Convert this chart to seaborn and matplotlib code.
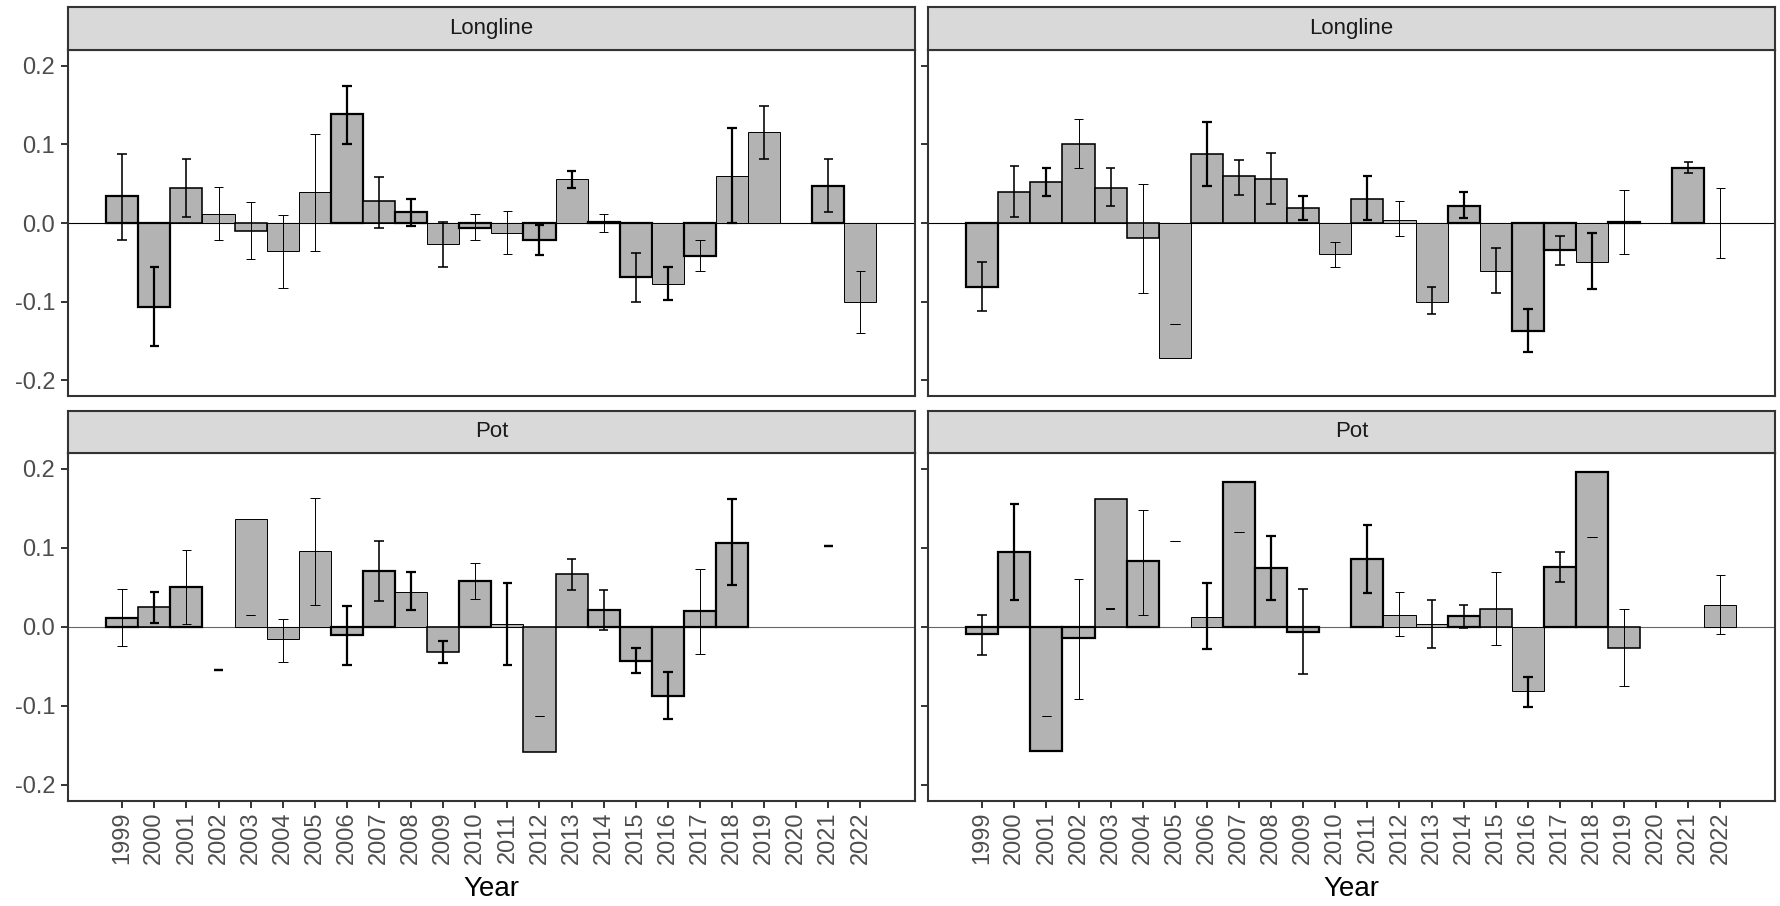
import numpy as np
import pandas as pd
import matplotlib
matplotlib.use("Agg")
import matplotlib.pyplot as plt
import seaborn as sns

nan = np.nan

# ─── Données ─────────────────────────────────────────────────────────────────
years = list(range(1999, 2023))

# panneau haut-gauche : Longline
ll_a_est = [0.034, -0.107, 0.044, 0.012, -0.010, -0.035, 0.039, 0.138, 0.028, 0.014, -0.027, -0.006,
            -0.013, -0.021, 0.056, 0.001, -0.069, -0.077, -0.042, 0.060, 0.116, nan, 0.047, -0.100]
ll_a_lo = [-0.021, -0.157, 0.008, -0.021, -0.046, -0.083, -0.035, 0.101, -0.006, -0.004, -0.056, -0.021,
           -0.039, -0.041, 0.044, -0.012, -0.101, -0.098, -0.061, 0.000, 0.082, nan, 0.014, -0.140]
ll_a_hi = [0.088, -0.056, 0.081, 0.046, 0.027, 0.010, 0.113, 0.174, 0.059, 0.030, 0.001, 0.012,
           0.015, -0.003, 0.066, 0.012, -0.038, -0.056, -0.022, 0.121, 0.149, nan, 0.082, -0.061]
ll_a_bar_lw = [3, 3, 2, 1, 2, 1, 1, 3, 2, 3, 1, 3, 1, 3, 1, 3, 3, 1, 3, 1, 1, 1, 3, 1]
ll_a_err_lw = [2, 3, 2, 1, 1, 1, 1, 3, 2, 3, 2, 1, 1, 3, 3, 1, 2, 3, 1, 3, 2, 1, 2, 1]

# panneau haut-droit : Longline
ll_b_est = [-0.082, 0.040, 0.052, 0.100, 0.045, -0.019, -0.172, 0.088, 0.060, 0.056, 0.019, -0.040,
            0.031, 0.004, -0.100, 0.022, -0.061, -0.137, -0.034, -0.049, 0.001, nan, 0.070, nan]
ll_b_lo = [-0.112, 0.008, 0.034, 0.070, 0.022, -0.089, -0.128, 0.047, 0.036, 0.024, 0.004, -0.056,
           0.004, -0.017, -0.116, 0.006, -0.089, -0.164, -0.054, -0.084, -0.040, nan, 0.064, -0.044]
ll_b_hi = [-0.050, 0.073, 0.070, 0.132, 0.070, 0.050, -0.128, 0.128, 0.080, 0.089, 0.034, -0.024,
           0.060, 0.028, -0.082, 0.039, -0.032, -0.109, -0.016, -0.013, 0.042, nan, 0.077, 0.044]
ll_b_bar_lw = [3, 2, 2, 2, 2, 2, 1, 2, 2, 2, 2, 1, 2, 1, 1, 3, 1, 3, 3, 1, 3, 1, 3, 1]
ll_b_err_lw = [2, 2, 3, 1, 2, 1, 1, 3, 2, 2, 3, 1, 3, 1, 2, 3, 2, 3, 2, 3, 1, 1, 2, 1]

# panneau bas-gauche : Pot
pot_a_est = [0.011, 0.025, 0.050, nan, 0.136, -0.016, 0.096, -0.011, 0.071, 0.044, -0.032, 0.058,
             0.003, -0.159, 0.067, 0.021, -0.043, -0.087, 0.020, 0.106, nan, nan, nan, nan]
pot_a_lo = [-0.025, 0.005, 0.003, -0.055, 0.015, -0.045, 0.028, -0.048, 0.032, 0.021, -0.046, 0.035,
            -0.048, -0.113, 0.047, -0.004, -0.059, -0.117, -0.034, 0.053, nan, nan, 0.102, nan]
pot_a_hi = [0.048, 0.044, 0.097, -0.055, 0.015, 0.010, 0.163, 0.026, 0.108, 0.069, -0.018, 0.081,
            0.055, -0.113, 0.086, 0.046, -0.027, -0.057, 0.073, 0.161, nan, nan, 0.102, nan]
pot_a_bar_lw = [3, 2, 3, 1, 1, 1, 1, 3, 3, 1, 2, 3, 1, 2, 2, 3, 3, 3, 3, 3, 1, 1, 1, 1]
pot_a_err_lw = [1, 3, 1, 3, 1, 1, 1, 3, 2, 3, 3, 1, 3, 1, 2, 2, 3, 3, 1, 3, 1, 1, 3, 1]

# panneau bas-droit : Pot
pot_b_est = [-0.009, 0.095, -0.157, -0.014, 0.161, 0.083, nan, 0.012, 0.183, 0.074, -0.007, nan,
             0.086, 0.015, 0.003, 0.014, 0.023, -0.081, 0.076, 0.195, -0.027, nan, nan, 0.028]
pot_b_lo = [-0.036, 0.034, -0.113, -0.091, 0.023, 0.015, 0.108, -0.028, 0.120, 0.034, -0.060, nan,
            0.042, -0.012, -0.027, -0.002, -0.023, -0.101, 0.056, 0.113, -0.075, nan, nan, -0.009]
pot_b_hi = [0.015, 0.155, -0.113, 0.060, 0.023, 0.148, 0.108, 0.055, 0.120, 0.115, 0.048, nan,
            0.129, 0.044, 0.034, 0.028, 0.069, -0.064, 0.094, 0.113, 0.023, nan, nan, 0.065]
pot_b_bar_lw = [3, 3, 3, 3, 2, 3, 1, 1, 3, 3, 3, 1, 3, 1, 1, 3, 2, 1, 3, 3, 2, 1, 1, 1]
pot_b_err_lw = [2, 3, 1, 1, 2, 1, 1, 3, 1, 3, 2, 1, 3, 1, 2, 2, 1, 3, 2, 1, 1, 1, 1, 1]

y_ticks = [-0.2, -0.1, 0.0, 0.1, 0.2]
y_labels = ["-0.2", "-0.1", "0.0", "0.1", "0.2"]

# ─── Style ───────────────────────────────────────────────────────────────────
sns.set_style("white")
plt.rcParams["font.family"] = ["Liberation Sans", "DejaVu Sans"]

LW = {1: 0.7, 2: 1.15, 3: 1.6}
BAR_FILL = "#B3B3B3"
BORDER = "#333333"
TICK_TXT = "#4D4D4D"

W, H = 1781, 906


def box(x0, x1, ytop, ybot):
    return [x0 / W, 1 - ybot / H, (x1 - x0) / W, (ybot - ytop) / H]


def frame(df):
    return df.assign(year=years)


panels = [
    # (col, row, label, est, lo, hi, bar_lw, err_lw)
    (0, 0, "Longline", ll_a_est, ll_a_lo, ll_a_hi, ll_a_bar_lw, ll_a_err_lw),
    (1, 0, "Longline", ll_b_est, ll_b_lo, ll_b_hi, ll_b_bar_lw, ll_b_err_lw),
    (0, 1, "Pot", pot_a_est, pot_a_lo, pot_a_hi, pot_a_bar_lw, pot_a_err_lw),
    (1, 1, "Pot", pot_b_est, pot_b_lo, pot_b_hi, pot_b_bar_lw, pot_b_err_lw),
]

col_x = [(67.7, 915.0), (927.7, 1775.0)]
row_y = [(7.0, 50.0, 396.0), (411.0, 452.7, 800.7)]

fig = plt.figure(figsize=(W / 100, H / 100), dpi=100)

for col, row, label, est, lo, hi, blw, elw in panels:
    x0, x1 = col_x[col]
    s_top, p_top, p_bot = row_y[row]
    df = pd.DataFrame({"year": years, "est": est, "lo": lo, "hi": hi,
                       "bar_lw": [LW[v] for v in blw],
                       "err_lw": [LW[v] for v in elw]})

    ax = fig.add_axes(box(x0, x1, p_top, p_bot))
    ax.axhline(0, color="black" if row == 0 else "#666666", lw=0.8, zorder=0.5)

    bars = df.dropna(subset=["est"])
    sns.barplot(data=bars, x="year", y="est", native_scale=True, orient="x",
                width=1, color=BAR_FILL, saturation=1, edgecolor="black",
                errorbar=None, ax=ax, zorder=1)
    lw_by_year = dict(zip(df.year, df.bar_lw))
    for patch in ax.patches:
        yr = int(round(patch.get_x() + patch.get_width() / 2))
        patch.set_linewidth(lw_by_year[yr])
        patch.set_joinstyle("miter")

    err = df.dropna(subset=["lo", "hi"])
    ax.vlines(err.year, err.lo, err.hi, colors="black", linewidths=err.err_lw,
              capstyle="butt", zorder=3)
    for end in ("lo", "hi"):
        ax.hlines(err[end], err.year - 0.15, err.year + 0.15, colors="black",
                  linewidths=err.err_lw, capstyle="butt", zorder=3)

    ax.set_xlim(1997.3, 2023.7)
    ax.set_ylim(-0.22, 0.22)
    ax.set_yticks(y_ticks)
    ax.set_yticklabels(y_labels if col == 0 else [""] * len(y_ticks))
    ax.set_ylabel("")
    for sp in ax.spines.values():
        sp.set_color(BORDER)
        sp.set_linewidth(1.5)
    ax.tick_params(axis="y", left=True, length=5, width=1.4, color=BORDER,
                   labelcolor=TICK_TXT, labelsize=17, pad=4)
    if row == 1:
        ax.set_xticks(years)
        ax.set_xticklabels([str(y) for y in years], rotation=90)
        ax.tick_params(axis="x", bottom=True, length=5, width=1.4, color=BORDER,
                       labelcolor=TICK_TXT, labelsize=17, pad=3)
        ax.set_xlabel("Year", fontsize=20, color="black", labelpad=8)
    else:
        ax.set_xticks([])
        ax.set_xlabel("")

    sax = fig.add_axes(box(x0, x1, s_top, p_top))
    sax.set_facecolor("#D9D9D9")
    sax.set_xticks([])
    sax.set_yticks([])
    for sp in sax.spines.values():
        sp.set_color(BORDER)
        sp.set_linewidth(1.5)
    sax.text(0.5, 0.5, label, ha="center", va="center", fontsize=16,
             color="#1A1A1A", transform=sax.transAxes)

fig.savefig("out.png", dpi=100, facecolor="white")
